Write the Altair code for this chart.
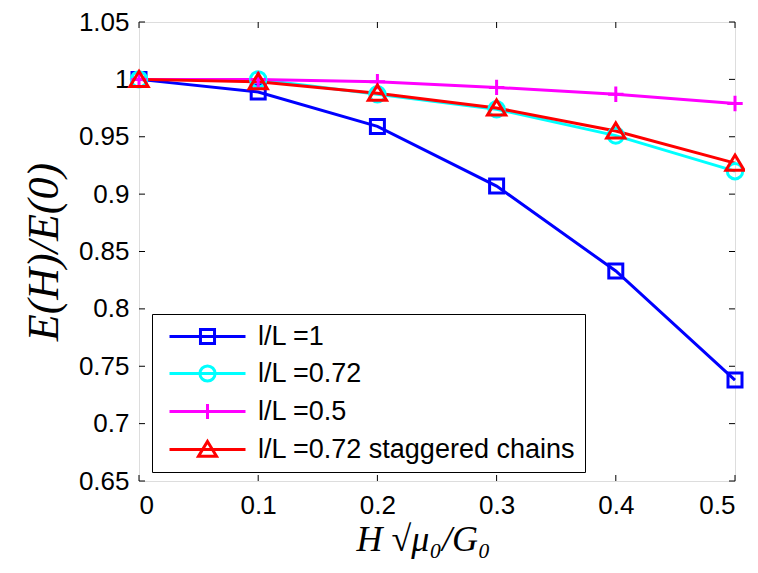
import altair as alt
import pandas as pd

# ---- data ----
x_vals = [0.0, 0.1, 0.2, 0.3, 0.4, 0.5]
series_names = ["l/L =1", "l/L =0.72", "l/L =0.5", "l/L =0.72 staggered chains"]
y_l1 = [1.000, 0.989, 0.959, 0.907, 0.833, 0.738]
y_l072 = [1.000, 1.000, 0.987, 0.974, 0.951, 0.920]
y_l05 = [1.000, 1.000, 0.998, 0.993, 0.987, 0.979]
y_l072s = [1.000, 0.998, 0.988, 0.975, 0.955, 0.927]
colors = ["#0000FF", "#00FFFF", "#FF00FF", "#FF0000"]

x_ticks = [0, 0.1, 0.2, 0.3, 0.4, 0.5]
y_ticks = [0.65, 0.7, 0.75, 0.8, 0.85, 0.9, 0.95, 1.0, 1.05]

rows = []
for name, ys in zip(series_names, [y_l1, y_l072, y_l05, y_l072s]):
    for i, (xv, yv) in enumerate(zip(x_vals, ys)):
        rows.append({"x": xv, "y": yv, "series": name, "order": i})
df = pd.DataFrame(rows)

W, H = 596, 459

# marker shapes (plot) and legend symbols (line + marker)
marker_paths = [
    "M-1,-1H1V1H-1Z",
    "M1.1,0A1.1,1.1,0,1,1,-1.1,0A1.1,1.1,0,1,1,1.1,0Z",
    "M-1.1,0H1.1M0,-1.1V1.1",
    "M0,-1.15L1.3,1H-1.3Z",
]
legend_paths = [
    "M-4,0H4M-0.74,-0.74H0.74V0.74H-0.74Z",
    "M-4,0H4M0.8,0A0.8,0.8,0,1,1,-0.8,0A0.8,0.8,0,1,1,0.8,0Z",
    "M-4,0H4M0,-0.8V0.8",
    "M-4,0H4M0,-0.85L0.95,0.72H-0.95Z",
]

xs = alt.Scale(domain=[0, 0.5], nice=False, zero=False)
ys = alt.Scale(domain=[0.65, 1.05], nice=False, zero=False)
cscale = alt.Scale(domain=series_names, range=colors)

x_axis = alt.Axis(
    values=x_ticks, format="~g", grid=False, tickSize=0, domain=False,
    labelFont="Liberation Sans", labelFontSize=26, labelColor="black", labelPadding=11,
    title="H \u221Aμ\u2080/G\u2080", titleFont="Liberation Serif", titleFontStyle="italic",
    titleFontWeight="normal", titleFontSize=36, titleColor="black", titlePadding=4,
    titleX=284,
)
y_axis = alt.Axis(
    values=y_ticks, format=".2~f", grid=False, tickSize=0, domain=False,
    labelFont="Liberation Sans", labelFontSize=26, labelColor="black", labelPadding=10,
    title="E(H)/E(0)", titleFont="Liberation Serif", titleFontStyle="italic",
    titleFontWeight="normal", titleFontSize=44, titleColor="black", titlePadding=12,
)

base = alt.Chart(df)

lines = base.mark_line(strokeWidth=3).encode(
    x=alt.X("x:Q", scale=xs, axis=x_axis),
    y=alt.Y("y:Q", scale=ys, axis=y_axis),
    color=alt.Color("series:N", scale=cscale, legend=None),
    order="order:Q",
)

points = base.mark_point(filled=False, strokeWidth=3, size=196, opacity=1).encode(
    x=alt.X("x:Q", scale=xs),
    y=alt.Y("y:Q", scale=ys),
    color=alt.Color("series:N", scale=cscale, legend=None),
    shape=alt.Shape("series:N", scale=alt.Scale(domain=series_names, range=marker_paths), legend=None),
)

legend = alt.Legend(
    orient="none", legendX=13, legendY=292, title=None, padding=9,
    strokeColor="black", fillColor="white",
    labelFont="Liberation Sans", labelFontSize=27, labelColor="black",
    labelExpr="datum.label + '  '",
    symbolSize=361, symbolStrokeWidth=3, symbolOffset=33, labelOffset=37,
    rowPadding=9, labelLimit=600,
)
legend_layer = base.mark_point(filled=False, strokeWidth=3, opacity=1).encode(
    x=alt.X("x:Q", scale=xs),
    y=alt.Y("y:Q", scale=ys),
    color=alt.Color("series:N", scale=cscale, legend=legend),
    shape=alt.Shape("series:N", scale=alt.Scale(domain=series_names, range=legend_paths), legend=legend),
).transform_filter("false")

# inward ticks (MATLAB style)
xt = pd.DataFrame({"t": x_ticks})
yt = pd.DataFrame({"t": y_ticks})
xtick_bot = alt.Chart(xt).mark_rule(color="black", strokeWidth=1).encode(
    x=alt.X("t:Q", scale=xs), y=alt.value(H), y2=alt.value(H - 6))
xtick_top = alt.Chart(xt).mark_rule(color="black", strokeWidth=1).encode(
    x=alt.X("t:Q", scale=xs), y=alt.value(0), y2=alt.value(6))
ytick_l = alt.Chart(yt).mark_rule(color="black", strokeWidth=1).encode(
    y=alt.Y("t:Q", scale=ys), x=alt.value(0), x2=alt.value(6))
ytick_r = alt.Chart(yt).mark_rule(color="black", strokeWidth=1).encode(
    y=alt.Y("t:Q", scale=ys), x=alt.value(W - 6), x2=alt.value(W))

chart = alt.layer(
    xtick_bot, xtick_top, ytick_l, ytick_r, lines, points, legend_layer
).resolve_scale(
    color="independent", shape="independent"
).properties(
    width=W, height=H,
    autosize=alt.AutoSizeParams(type="none"),
    padding={"left": 131, "top": 14, "right": 10, "bottom": 80},
).configure_view(
    stroke="black", strokeWidth=2
).configure(background="white")

chart.save("out.html", embed_options={"renderer": "svg", "actions": False})
